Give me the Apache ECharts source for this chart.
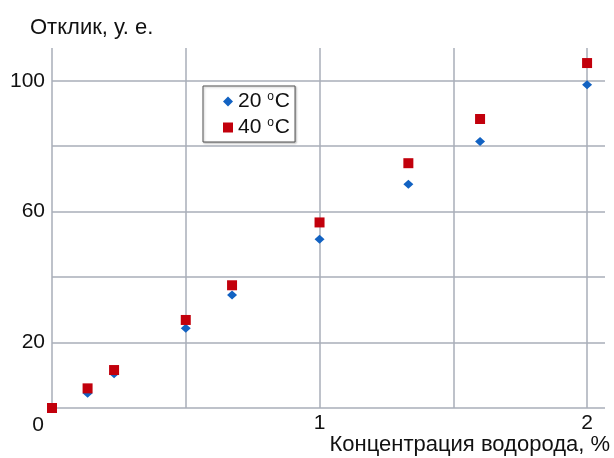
<!DOCTYPE html>
<html>
<head>
<meta charset="utf-8">
<script src="https://cdn.jsdelivr.net/npm/echarts@6/dist/echarts.min.js"></script>
<style>
  html, body { margin: 0; padding: 0; background: #fff; }
  #chart { width: 614px; height: 458px; }
</style>
</head>
<body>
<div id="chart"></div>
<script>
// концентрация водорода, %
var conc = [0, 0.133, 0.232, 0.5, 0.673, 1.0, 1.332, 1.6, 2.0];
// отклик при 20 °C и 40 °C
var resp20 = [0, 4.5, 10.5, 24.4, 34.5, 51.6, 68.4, 81.4, 98.8];
var resp40 = [0, 6.0, 11.6, 26.9, 37.5, 56.7, 74.8, 88.3, 105.4];
var xTickLabels = [0, 1, 2];
var yTickLabels = [20, 60, 100];

var font = 'Liberation Sans, Arial, sans-serif';
var gridColor = '#a9aeb9';

function pairs(xs, ys) {
    var out = [];
    for (var i = 0; i < xs.length; i++) out.push([xs[i], ys[i]]);
    return out;
}

var chart = echarts.init(document.getElementById('chart'));
chart.setOption({
    backgroundColor: '#fff',
    textStyle: { fontFamily: font },
    title: {
        text: 'Отклик, у. е.',
        left: 25,
        top: 12,
        textStyle: { fontFamily: font, fontSize: 22, fontWeight: 'normal', color: '#111' }
    },
    // подпись оси X справа снизу
    graphic: [{
        type: 'text',
        right: 4,
        top: 434,
        style: { text: 'Концентрация водорода, %', font: '22px ' + font, fill: '#111' }
    }],
    legend: {
        orient: 'vertical',
        left: 203,
        top: 86,
        padding: [5, 5, 4, 20],
        itemGap: 5,
        itemWidth: 10,
        itemHeight: 10,
        backgroundColor: '#fff',
        borderColor: '#555',
        borderWidth: 1,
        shadowColor: 'rgba(0,0,0,0.25)',
        shadowBlur: 2,
        shadowOffsetX: 1,
        shadowOffsetY: 1,
        formatter: function (name) {
            var parts = name.split('°');
            return '{v|' + parts[0] + '}{s|o}{v|' + parts[1] + '}';
        },
        textStyle: {
            fontFamily: font,
            fontSize: 21,
            color: '#111',
            rich: {
                v: { fontFamily: font, fontSize: 21, color: '#111' },
                s: { fontFamily: font, fontSize: 12, color: '#111', padding: [0, 1, 9, 0] }
            }
        },
        data: [
            { name: '20 °C', icon: 'diamond' },
            { name: '40 °C', icon: 'rect' }
        ]
    },
    grid: { left: 52, right: 9, top: 48, bottom: 50, containLabel: false, outerBoundsMode: 'none' },
    xAxis: {
        type: 'value',
        min: 0,
        max: 2.067,
        interval: 0.5,
        axisLine: { show: false },
        axisTick: { show: false },
        splitLine: { show: true, showMinLine: true, showMaxLine: false, lineStyle: { color: gridColor, width: 1.5 } },
        axisLabel: {
            show: true,
            showMaxLabel: false,
            margin: 5,
            fontFamily: font,
            fontSize: 21,
            color: '#111',
            verticalAlign: 'top',
            formatter: function (v) {
                if (xTickLabels.indexOf(v) < 0) return '';
                if (v === 0) return '{z|0}';
                return String(v);
            },
            rich: {
                z: { fontFamily: font, fontSize: 21, color: '#111', padding: [2, 28, 0, 0] }
            }
        }
    },
    yAxis: {
        type: 'value',
        min: 0,
        max: 110,
        interval: 20,
        axisLine: { show: false },
        axisTick: { show: false },
        splitLine: { show: true, showMinLine: true, showMaxLine: false, lineStyle: { color: gridColor, width: 1.5 } },
        axisLabel: {
            margin: 7,
            fontFamily: font,
            fontSize: 21,
            color: '#111',
            showMaxLabel: false,
            formatter: function (v) {
                return yTickLabels.indexOf(v) >= 0 ? String(v) : '';
            }
        }
    },
    series: [
        {
            name: '20 °C',
            type: 'scatter',
            symbol: 'diamond',
            symbolSize: [10, 9],
            itemStyle: { color: '#1262c2', opacity: 1 },
            data: pairs(conc, resp20)
        },
        {
            name: '40 °C',
            type: 'scatter',
            symbol: 'rect',
            symbolSize: 10,
            itemStyle: { color: '#c2000c', opacity: 1 },
            data: pairs(conc, resp40)
        }
    ]
});
</script>
</body>
</html>
